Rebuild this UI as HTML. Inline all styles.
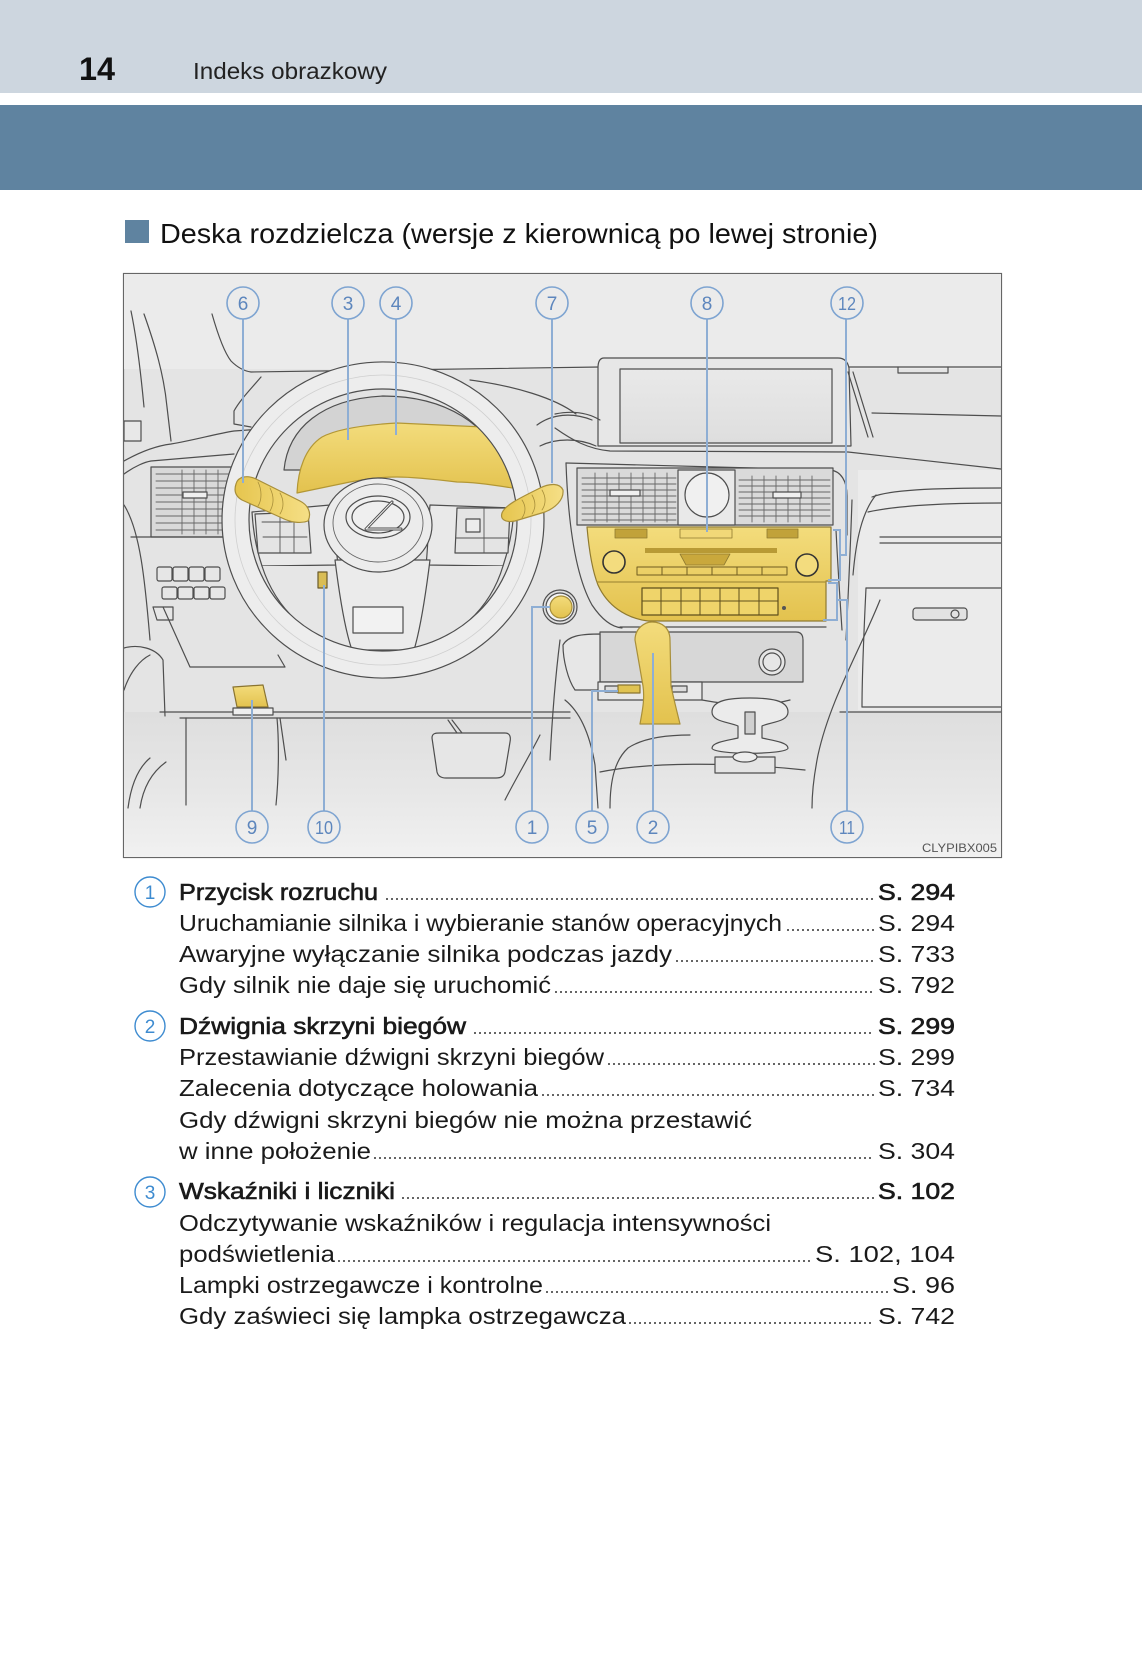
<!DOCTYPE html>
<html><head><meta charset="utf-8">
<style>
html,body{margin:0;padding:0;background:#fff;}
svg{display:block;}
text{font-family:"Liberation Sans",sans-serif;}
</style></head><body>
<svg width="1142" height="1654" viewBox="0 0 1142 1654" xmlns="http://www.w3.org/2000/svg">
<defs>
<clipPath id="fig"><rect x="124" y="274" width="877" height="583"/></clipPath>
<linearGradient id="yel" x1="0" y1="0" x2="0" y2="1"><stop offset="0" stop-color="#f3dc7c"/><stop offset="1" stop-color="#e3c24e"/></linearGradient>
<linearGradient id="yel2" x1="0" y1="0" x2="1" y2="0"><stop offset="0" stop-color="#e6c54e"/><stop offset="1" stop-color="#f5df86"/></linearGradient>
<linearGradient id="floor" x1="0" y1="0" x2="0" y2="1"><stop offset="0" stop-color="#dedede"/><stop offset="0.55" stop-color="#e7e7e7"/><stop offset="1" stop-color="#f1f1f1"/></linearGradient>
<linearGradient id="scr" x1="0" y1="0" x2="0" y2="1"><stop offset="0" stop-color="#e9e9e9"/><stop offset="1" stop-color="#dedede"/></linearGradient>
</defs>

<!-- header -->
<rect x="0" y="0" width="1142" height="93" fill="#cdd6df"/>
<rect x="0" y="105" width="1142" height="85" fill="#5f83a0"/>
<text x="79" y="80" font-size="32" font-weight="bold" textLength="36" lengthAdjust="spacingAndGlyphs" fill="#111">14</text>
<text x="193" y="79" font-size="23" textLength="194" lengthAdjust="spacingAndGlyphs" fill="#222">Indeks obrazkowy</text>

<!-- title -->
<rect x="125" y="220" width="24" height="23" fill="#5f83a0"/>
<text x="160" y="243" font-size="28" textLength="718" lengthAdjust="spacingAndGlyphs" fill="#111">Deska rozdzielcza (wersje z kierownicą po lewej stronie)</text>

<!-- figure -->
<rect x="123.5" y="273.5" width="878" height="584" fill="#e4e4e4" stroke="#666" stroke-width="1.2"/>
<g clip-path="url(#fig)" stroke="#4e4e4e" stroke-width="1.2" fill="none" stroke-linejoin="round" stroke-linecap="round">
  <rect x="124" y="274" width="877" height="95" fill="#ebebeb" stroke="none"/>
  <rect x="124" y="712" width="877" height="146" fill="url(#floor)" stroke="none"/>
  <rect x="858" y="470" width="143" height="240" fill="#ebebeb" stroke="none"/>

  <!-- left pillar & upper left -->
  <path d="M131,311 C137,340 141,375 144,407"/>
  <path d="M144,314 C155,345 164,375 167,407 L171,441"/>
  <path d="M212,314 C218,335 224,352 231,361 C238,368 244,371 251,372 L600,367"/>
  <path d="M261,377 C250,390 240,400 234,411 L234,424 L251,427"/>
  <rect x="124" y="421" width="17" height="20" fill="#e8e8e8"/>
  <path d="M124,461 C140,452 155,446 171,444 C195,440 215,434 234,431 L330,424"/>
  <path d="M124,474 C135,466 145,462 151,461 L234,454"/>
  <!-- left vent -->
  <path d="M151,467 L234,467 L234,537 L151,537 Z" fill="#d9d9d9"/>
  <g stroke="#666" stroke-width="0.9">
    <path d="M156,474 H230 M156,481 H230 M156,488 H230 M156,495 H230 M156,502 H230 M156,509 H230 M156,516 H230 M156,523 H230 M156,530 H230"/>
    <path d="M182,470 V534 M194,470 V534 M206,470 V534 M218,470 V534"/>
  </g>
  <rect x="183" y="492" width="24" height="6" fill="#efefef"/>
  <path d="M131,537 L234,537 L234,574"/>
  <g fill="#e6e6e6">
    <rect x="157" y="567" width="15" height="14" rx="2"/><rect x="173" y="567" width="15" height="14" rx="2"/><rect x="189" y="567" width="15" height="14" rx="2"/><rect x="205" y="567" width="15" height="14" rx="2"/>
    <rect x="162" y="587" width="15" height="12" rx="2"/><rect x="178" y="587" width="15" height="12" rx="2"/><rect x="194" y="587" width="15" height="12" rx="2"/><rect x="210" y="587" width="15" height="12" rx="2"/>
  </g>
  <path d="M153,607 L173,607 L173,620 L157,620 Z" fill="#e6e6e6"/>
  <path d="M163,607 L190,667 L285,667 L278,655"/>
  <path d="M124,505 C140,530 145,580 150,640"/>
  <!-- left lower / door -->
  <path d="M124,648 C138,644 156,648 163,660 L165,716"/>
  <path d="M124,690 C130,672 140,660 150,655"/>
  <path d="M160,712 L570,712"/>
  <path d="M180,718 L570,718"/>
  <path d="M128,808 C131,785 138,768 150,758"/>
  <path d="M140,808 C143,788 152,772 166,762"/>
  <path d="M186,718 L186,805"/>
  <path d="M277,718 C279,740 279,775 276,805"/>
  <path d="M280,718 L286,760"/>
  <!-- 9 yellow -->
  <path d="M233,687 L263,685 L268,707 L237,707 Z" fill="url(#yel)" stroke="#8a7430"/>
  <path d="M233,708 L273,708 L273,715 L233,715 Z" fill="#eeeeee"/>
  <!-- pedal -->
  <path d="M448,720 L457,733"/>
  <path d="M452,720 L462,733"/>
  <path d="M432,738 C432,733 436,733 440,733 L505,733 C510,733 511,737 510,742 L505,772 C504,777 500,778 496,778 L446,778 C441,778 438,776 437,772 Z" fill="#e6e6e6"/>
  <path d="M505,800 C515,780 530,755 540,735"/>

  <!-- top right of wheel -->
  <path d="M470,380 C515,386 555,398 576,414"/>
  <path d="M537,425 C552,414 572,412 592,420"/>
  <path d="M540,446 C556,438 578,438 596,446"/>

  <!-- steering wheel interior -->
  <ellipse cx="383" cy="520" rx="134" ry="131" fill="#e3e3e3" stroke="none"/>
  <path d="M284,470 C288,428 322,399 383,396 C446,396 490,425 506,470 Z" fill="#d3d3d3"/>
  <path d="M297,493 C298,470 305,448 322,437 C337,429 362,425 397,423 L483,427 C494,434 499,444 503,455 C510,466 515,477 518,489 C495,485 474,482 457,482 C432,479 412,477 397,477 C380,477 365,479 350,482 C330,486 312,490 297,493 Z" fill="url(#yel)" stroke="#b39735"/>
  <!-- spokes -->
  <path d="M252,512 L330,505 C335,530 336,548 338,565 L262,566 C256,548 253,530 252,512 Z" fill="#e9e9e9"/>
  <path d="M514,508 L430,505 C428,530 428,548 426,565 L503,566 C509,548 513,530 514,508 Z" fill="#e9e9e9"/>
  <path d="M262,566 C276,610 310,640 352,650 L414,650 C455,640 490,610 503,566" fill="#e6e6e6"/>
  <path d="M335,560 C340,600 345,630 352,650 L414,650 C420,630 425,600 430,560 Z" fill="#ebebeb"/>
  <rect x="353" y="607" width="50" height="26" fill="#f2f2f2"/>
  <path d="M255,514 L308,512 L311,553 L258,553 Z" fill="#e4e4e4"/>
  <path d="M262,522 H305 M263,537 H307 M280,515 V553 M294,515 V553" stroke="#555" stroke-width="0.9"/>
  <path d="M457,508 L510,508 L508,553 L455,553 Z" fill="#e4e4e4"/>
  <rect x="466" y="519" width="14" height="13" fill="#ececec"/>
  <path d="M456,538 H508 M484,508 V553" stroke="#555" stroke-width="0.9"/>
  <!-- hub -->
  <ellipse cx="378" cy="525" rx="54" ry="47" fill="#ececec"/>
  <ellipse cx="378" cy="523" rx="45" ry="39" stroke="#666" stroke-width="0.9"/>
  <ellipse cx="378" cy="517" rx="32" ry="21" fill="#efefef"/>
  <ellipse cx="378" cy="517" rx="26" ry="16"/>
  <path d="M392,502 L366,529 L401,529" stroke-width="3"/>
  <path d="M392,502 L366,529 L401,529" stroke="#f4f4f4" stroke-width="1"/>
  <!-- rim -->
  <path fill-rule="evenodd" fill="#ededed" d="M222,520 a161,158 0 1,0 322,0 a161,158 0 1,0 -322,0 Z M249,520 a134,131 0 1,0 268,0 a134,131 0 1,0 -268,0 Z"/>
  <ellipse cx="383" cy="520" rx="148" ry="145" stroke="#cfcfcf" stroke-width="0.8"/>
  <!-- column 10 -->
  <rect x="318" y="572" width="9" height="16" fill="#d9bd55" stroke="#6a5a2a"/>
  <!-- stalks -->
  <path d="M236,484 C238,476 248,475 256,479 L300,501 C308,505 312,513 308,521 C300,524 290,522 282,518 L242,500 C235,496 234,490 236,484 Z" fill="url(#yel2)" stroke="#a88f3a"/>
  <path d="M258,482 C262,490 262,500 258,506 M270,488 C274,496 274,504 270,511 M280,493 C284,500 284,508 280,514" stroke="#a88f3a" stroke-width="0.8"/>
  <path d="M502,513 C505,505 520,498 540,488 C550,483 560,483 563,490 C564,500 555,508 545,512 L515,521 C505,523 500,519 502,513 Z" fill="url(#yel2)" stroke="#a88f3a"/>
  <path d="M522,500 C526,506 526,512 522,518 M532,495 C536,502 536,508 532,514 M542,490 C546,497 546,504 542,510" stroke="#a88f3a" stroke-width="0.8"/>
  <!-- start button -->
  <circle cx="560" cy="607" r="17" fill="#dedede"/>
  <circle cx="560" cy="607" r="14" fill="#f3f3f3"/>
  <circle cx="561" cy="607" r="11" fill="url(#yel)" stroke="#a88f3a"/>

  <!-- centre screen -->
  <path d="M604,358 L838,358 Q847,358 849,368 L851,446 L598,446 L598,368 Q598,358 604,358 Z" fill="#e7e7e7"/>
  <rect x="620" y="369" width="212" height="74" fill="url(#scr)"/>
  <path d="M555,414 C575,410 590,414 600,420"/>
  <path d="M555,428 C572,440 588,449 610,451 L848,452 L1001,469"/>
  <path d="M566,463 C700,466 780,468 830,470 C841,471 847,481 847,496 L847,535"/>
  <!-- right dash -->
  <path d="M849,367 L1001,367"/>
  <path d="M898,367 L898,373 L948,373 L948,367"/>
  <path d="M848,372 L868,437 M853,372 L873,437"/>
  <path d="M872,413 L1001,416"/>
  <path d="M872,497 C890,490 930,488 1001,488"/>
  <path d="M868,512 C900,505 950,503 1001,503"/>
  <path d="M880,537 L1001,537 M880,543 L1001,543"/>
  <path d="M876,495 C862,512 856,540 853,575"/>
  <path d="M866,588 L1001,588 M862,707 L1001,707 M840,712 L1001,712"/>
  <path d="M866,588 C864,630 862,670 862,707"/>
  <rect x="913" y="608" width="54" height="12" rx="3" fill="#e2e2e2"/>
  <circle cx="955" cy="614" r="4"/>
  <!-- vents & clock -->
  <rect x="577" y="468" width="256" height="57" fill="#dadada"/>
  <g stroke="#666" stroke-width="0.9">
    <path d="M582,478 H676 M582,484 H676 M582,490 H676 M582,496 H676 M582,502 H676 M582,508 H676 M582,514 H676 M582,520 H676"/>
    <path d="M595,473 V522 M607,473 V522 M619,473 V522 M631,473 V522 M643,473 V522 M655,473 V522 M667,473 V522"/>
    <path d="M739,480 H830 M739,486 H830 M739,492 H830 M739,498 H830 M739,504 H830 M739,510 H830 M739,516 H830"/>
    <path d="M752,476 V522 M764,476 V522 M776,476 V522 M788,476 V522 M800,476 V522 M812,476 V522"/>
  </g>
  <rect x="610" y="490" width="30" height="6" fill="#efefef"/>
  <rect x="773" y="492" width="28" height="6" fill="#efefef"/>
  <rect x="678" y="470" width="57" height="55" fill="#e9e9e9"/>
  <circle cx="707" cy="495" r="22" fill="#f0f0f0"/>
  <!-- yellow control panel -->
  <path d="M587,527 L831,527 L831,581 L826,581 L826,621 L648,621 C625,618 607,605 598,585 C592,570 589,550 587,527 Z" fill="url(#yel)" stroke="#8f7a30"/>
  <path d="M597,582 L826,582" stroke="#a88f3a"/>
  <rect x="615" y="529" width="32" height="9" fill="#c1a23a" stroke="#8f7a30" stroke-width="0.8"/>
  <rect x="680" y="529" width="52" height="9" fill="#f1d878" stroke="#8f7a30" stroke-width="0.8"/>
  <rect x="767" y="529" width="31" height="9" fill="#c1a23a" stroke="#8f7a30" stroke-width="0.8"/>
  <rect x="645" y="548" width="132" height="5" fill="#b89a35" stroke="none"/>
  <path d="M680,554 L730,554 L724,565 L686,565 Z" fill="#c9a83c" stroke="#8f7a30" stroke-width="0.8"/>
  <circle cx="614" cy="562" r="11" fill="#f3dc7e" stroke="#333" stroke-width="1.6"/>
  <circle cx="807" cy="565" r="11" fill="#f3dc7e" stroke="#333" stroke-width="1.6"/>
  <rect x="637" y="567" width="150" height="8" stroke="#6f5c20" stroke-width="1"/>
  <path d="M662,567 V575 M687,567 V575 M712,567 V575 M737,567 V575 M762,567 V575" stroke="#6f5c20" stroke-width="1"/>
  <rect x="642" y="588" width="136" height="27" fill="#efd46a" stroke="#5f4f1c"/>
  <path d="M661,588 V615 M681,588 V615 M700,588 V615 M720,588 V615 M739,588 V615 M759,588 V615 M642,601 H778" stroke="#5f4f1c" stroke-width="1"/>
  <circle cx="784" cy="608" r="2" fill="#555" stroke="none"/>
  <path d="M620,627 L826,627"/>
  <path d="M566,463 C568,520 575,575 592,605 C602,620 612,627 622,628"/>
  <!-- brackets-side trims -->
  <path d="M852,500 C850,560 848,600 846,640"/>
  <path d="M836,530 C838,570 840,600 842,630"/>
  <path d="M880,600 C860,650 830,700 818,755 C813,780 812,795 812,808"/>
  <!-- gear area -->
  <path d="M600,632 L796,632 Q803,632 803,640 L803,682 L600,682 Z" fill="#d7d7d7"/>
  <path d="M563,645 C568,636 580,634 600,634 L600,690 L575,690 C568,680 563,660 563,645 Z" fill="#e7e7e7"/>
  <circle cx="772" cy="662" r="13" fill="#e6e6e6"/>
  <circle cx="772" cy="662" r="9"/>
  <rect x="598" y="682" width="104" height="18" fill="#e8e8e8"/>
  <rect x="605" y="686" width="15" height="6" fill="#dcdcdc"/>
  <rect x="672" y="686" width="15" height="6" fill="#dcdcdc"/>
  <path d="M635,640 C635,628 645,622 652,622 C662,622 670,628 670,640 L671,686 C674,700 677,712 680,724 L640,724 C642,712 645,700 643,686 Z" fill="url(#yel)" stroke="#a88f3a"/>
  <rect x="618" y="685" width="22" height="8" fill="#e0c352" stroke="#8a7430"/>
  <path d="M565,700 C580,712 590,735 595,765 L598,808"/>
  <path d="M610,808 C610,780 615,760 628,748 C640,740 660,735 690,735"/>
  <path d="M600,772 C650,762 730,762 805,770"/>
  <path d="M702,700 C730,705 760,708 790,700"/>
  <!-- cupholder -->
  <path d="M712,712 C712,700 730,698 750,698 C770,698 788,700 788,712 C788,722 770,722 762,726 L762,738 C770,740 788,742 788,748 C788,755 712,755 712,748 C712,742 730,740 738,738 L738,726 C730,722 712,722 712,712 Z" fill="#ebebeb"/>
  <rect x="745" y="712" width="10" height="22" fill="#d0d0d0"/>
  <rect x="715" y="757" width="60" height="16" fill="#e4e4e4"/>
  <ellipse cx="745" cy="757" rx="12" ry="5" fill="#ededed"/>
  <path d="M560,640 C555,680 552,720 550,760"/>
</g>

<!-- leader lines -->
<g stroke="#8eaed4" stroke-width="2" fill="none">
  <path d="M243,319 V483"/>
  <path d="M348,319 V440"/>
  <path d="M396,319 V435"/>
  <path d="M552,319 V483"/>
  <path d="M707,319 V532"/>
  <path d="M846,319 V555 H840"/>
  <path d="M833,530 H840 V580 H828"/>
  <path d="M828,583 H837 V620 H823"/>
  <path d="M252,811 V700"/>
  <path d="M324,811 V585"/>
  <path d="M532,811 V607 H550"/>
  <path d="M592,811 V691 H618"/>
  <path d="M653,811 V653"/>
  <path d="M847,811 V600 H837"/>
</g>
<!-- callouts -->
<g stroke="#7ea4d1" stroke-width="1.6" fill="none">
  <circle cx="243" cy="303" r="16"/><circle cx="348" cy="303" r="16"/><circle cx="396" cy="303" r="16"/>
  <circle cx="552" cy="303" r="16"/><circle cx="707" cy="303" r="16"/><circle cx="847" cy="303" r="16"/>
  <circle cx="252" cy="827" r="16"/><circle cx="324" cy="827" r="16"/><circle cx="532" cy="827" r="16"/>
  <circle cx="592" cy="827" r="16"/><circle cx="653" cy="827" r="16"/><circle cx="847" cy="827" r="16"/>
</g>
<g fill="#5d86bd" font-size="19" text-anchor="middle">
  <text x="243" y="310">6</text><text x="348" y="310">3</text><text x="396" y="310">4</text>
  <text x="552" y="310">7</text><text x="707" y="310">8</text>
  <text x="847" y="310" font-size="18" textLength="18" lengthAdjust="spacingAndGlyphs">12</text>
  <text x="252" y="834">9</text>
  <text x="324" y="834" font-size="18" textLength="18" lengthAdjust="spacingAndGlyphs">10</text>
  <text x="532" y="834">1</text><text x="592" y="834">5</text><text x="653" y="834">2</text>
  <text x="847" y="834" font-size="18" textLength="16" lengthAdjust="spacingAndGlyphs">11</text>
</g>
<text x="922" y="852" font-size="12" textLength="75" lengthAdjust="spacingAndGlyphs" fill="#555">CLYPIBX005</text>

<!-- list -->
<g stroke="#3d8bd0" stroke-width="1.4" fill="none">
  <circle cx="150" cy="892" r="15"/><circle cx="150" cy="1026" r="15"/><circle cx="150" cy="1192" r="15"/>
</g>
<g fill="#3d8bd0" font-size="19" text-anchor="middle">
  <text x="150" y="899">1</text><text x="150" y="1033">2</text><text x="150" y="1199">3</text>
</g>

<g fill="#1a1a1a" font-size="23">
  <text x="179" y="900" textLength="199" lengthAdjust="spacingAndGlyphs" stroke="#1a1a1a" stroke-width="0.6">Przycisk rozruchu</text>
  <text x="179" y="931" textLength="603" lengthAdjust="spacingAndGlyphs">Uruchamianie silnika i wybieranie stanów operacyjnych</text>
  <text x="179" y="962" textLength="493" lengthAdjust="spacingAndGlyphs">Awaryjne wyłączanie silnika podczas jazdy</text>
  <text x="179" y="993" textLength="372" lengthAdjust="spacingAndGlyphs">Gdy silnik nie daje się uruchomić</text>
  <text x="179" y="1034" textLength="287" lengthAdjust="spacingAndGlyphs" stroke="#1a1a1a" stroke-width="0.6">Dźwignia skrzyni biegów</text>
  <text x="179" y="1065" textLength="425" lengthAdjust="spacingAndGlyphs">Przestawianie dźwigni skrzyni biegów</text>
  <text x="179" y="1096" textLength="359" lengthAdjust="spacingAndGlyphs">Zalecenia dotyczące holowania</text>
  <text x="179" y="1128" textLength="573" lengthAdjust="spacingAndGlyphs">Gdy dźwigni skrzyni biegów nie można przestawić</text>
  <text x="179" y="1159" textLength="192" lengthAdjust="spacingAndGlyphs">w inne położenie</text>
  <text x="179" y="1199" textLength="216" lengthAdjust="spacingAndGlyphs" stroke="#1a1a1a" stroke-width="0.6">Wskaźniki i liczniki</text>
  <text x="179" y="1231" textLength="592" lengthAdjust="spacingAndGlyphs">Odczytywanie wskaźników i regulacja intensywności</text>
  <text x="179" y="1262" textLength="156" lengthAdjust="spacingAndGlyphs">podświetlenia</text>
  <text x="179" y="1293" textLength="364" lengthAdjust="spacingAndGlyphs">Lampki ostrzegawcze i kontrolne</text>
  <text x="179" y="1324" textLength="447" lengthAdjust="spacingAndGlyphs">Gdy zaświeci się lampka ostrzegawcza</text>
</g>
<g fill="#1a1a1a" font-size="23" text-anchor="end">
  <text x="955" y="900" textLength="77" lengthAdjust="spacingAndGlyphs" stroke="#1a1a1a" stroke-width="0.6">S. 294</text>
  <text x="955" y="931" textLength="77" lengthAdjust="spacingAndGlyphs">S. 294</text>
  <text x="955" y="962" textLength="77" lengthAdjust="spacingAndGlyphs">S. 733</text>
  <text x="955" y="993" textLength="77" lengthAdjust="spacingAndGlyphs">S. 792</text>
  <text x="955" y="1034" textLength="77" lengthAdjust="spacingAndGlyphs" stroke="#1a1a1a" stroke-width="0.6">S. 299</text>
  <text x="955" y="1065" textLength="77" lengthAdjust="spacingAndGlyphs">S. 299</text>
  <text x="955" y="1096" textLength="77" lengthAdjust="spacingAndGlyphs">S. 734</text>
  <text x="955" y="1159" textLength="77" lengthAdjust="spacingAndGlyphs">S. 304</text>
  <text x="955" y="1199" textLength="77" lengthAdjust="spacingAndGlyphs" stroke="#1a1a1a" stroke-width="0.6">S. 102</text>
  <text x="955" y="1262" textLength="140" lengthAdjust="spacingAndGlyphs">S. 102, 104</text>
  <text x="955" y="1293" textLength="63" lengthAdjust="spacingAndGlyphs">S. 96</text>
  <text x="955" y="1324" textLength="77" lengthAdjust="spacingAndGlyphs">S. 742</text>
</g>
<g stroke="#333" stroke-width="2" stroke-dasharray="0 5" stroke-linecap="round" fill="none">
  <line x1="387" y1="899" x2="875" y2="899"/>
  <line x1="788" y1="930" x2="875" y2="930"/>
  <line x1="677" y1="961" x2="875" y2="961"/>
  <line x1="556" y1="992" x2="875" y2="992"/>
  <line x1="475" y1="1033" x2="875" y2="1033"/>
  <line x1="609" y1="1064" x2="875" y2="1064"/>
  <line x1="543" y1="1095" x2="875" y2="1095"/>
  <line x1="375" y1="1158" x2="875" y2="1158"/>
  <line x1="403" y1="1198" x2="875" y2="1198"/>
  <line x1="339" y1="1261" x2="812" y2="1261"/>
  <line x1="547" y1="1292" x2="889" y2="1292"/>
  <line x1="630" y1="1323" x2="875" y2="1323"/>
</g>
</svg>
</body></html>
